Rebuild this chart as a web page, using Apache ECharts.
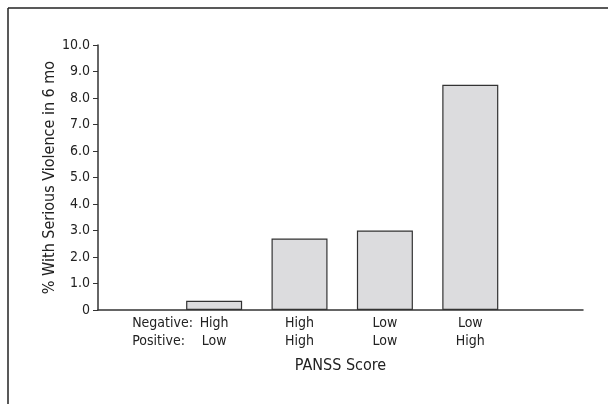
<!DOCTYPE html>
<html>
<head>
<meta charset="utf-8">
<script src="https://cdn.jsdelivr.net/npm/echarts@6/dist/echarts.min.js"></script>
<style>
html,body{margin:0;padding:0;background:#fff;}
#c{width:608px;height:404px;}
</style>
</head>
<body>
<div id="c"></div>
<script>
// Data
var negativeLevels = ['High', 'High', 'Low', 'Low'];
var positiveLevels = ['Low', 'High', 'Low', 'High'];
var violencePct = [0.35, 2.7, 3.0, 8.5];
var yTicks = ['0', '1.0', '2.0', '3.0', '4.0', '5.0', '6.0', '7.0', '8.0', '9.0', '10.0'];
var rowLabels = ['Negative:', 'Positive:'];
var yTitle = '% With Serious Violence in 6 mo';
var xTitle = 'PANSS Score';

var FONT = "'Liberation Sans Narrow', 'DejaVu Sans Condensed', sans-serif";
var TXT = '#222';
var FS = 14;
var NFS = 16;

var positions = negativeLevels.map(function (_, i) { return i + 1; });
var seriesData = violencePct.map(function (v, i) { return [positions[i], v]; });

var chart = echarts.init(document.getElementById('c'), null, {renderer: 'canvas'});
chart.setOption({
  animation: false,
  backgroundColor: '#fff',
  grid: {left: 98, right: 25, top: 45, bottom: 94, containLabel: false},
  xAxis: [{
    type: 'value',
    min: -0.36,
    max: 5.32,
    splitLine: {show: false},
    axisLine: {show: true, onZero: false, lineStyle: {color: '#333', width: 1.5}},
    axisTick: {show: false},
    axisLabel: {
      customValues: positions,
      hideOverlap: false,
      margin: 4,
      color: TXT,
      fontFamily: FONT,
      fontSize: FS,
      lineHeight: 18,
      formatter: function (v) {
        var i = Math.round(v) - 1;
        return negativeLevels[i] + '\n' + positiveLevels[i];
      }
    },
    name: xTitle,
    nameLocation: 'middle',
    nameGap: 48,
    nameTextStyle: {color: TXT, fontFamily: FONT, fontSize: NFS}
  }, {
    type: 'value',
    position: 'bottom',
    offset: 0,
    min: -0.36,
    max: 5.32,
    splitLine: {show: false},
    axisLine: {show: false},
    axisTick: {show: false},
    axisLabel: {
      customValues: [positions[0]],
      hideOverlap: false,
      margin: 4,
      align: 'right',
      padding: [0, 20, 0, 0],
      color: TXT,
      fontFamily: FONT,
      fontSize: FS,
      lineHeight: 18,
      formatter: function () {
        return '{p|' + rowLabels[0] + '}\n{p|' + rowLabels[1] + '}';
      },
      rich: {
        p: {width: 62, align: 'left', fontFamily: FONT, fontSize: FS, color: TXT, lineHeight: 18}
      }
    }
  }],
  yAxis: {
    type: 'value',
    min: 0,
    max: 10,
    interval: 1,
    splitLine: {show: false},
    axisLine: {show: true, onZero: false, lineStyle: {color: '#333', width: 1.5}},
    axisTick: {show: true, length: 5, lineStyle: {color: '#333', width: 1}},
    axisLabel: {
      margin: 8,
      color: TXT,
      fontFamily: FONT,
      fontSize: FS,
      formatter: function (v) { return yTicks[Math.round(v)]; }
    },
    name: yTitle,
    nameLocation: 'middle',
    nameGap: 40,
    nameMoveOverlap: false,
    nameTextStyle: {color: TXT, fontFamily: FONT, fontSize: NFS}
  },
  series: [{
    type: 'bar',
    xAxisIndex: 0,
    data: seriesData,
    barWidth: 56,
    itemStyle: {color: '#dcdcde', borderColor: '#333', borderWidth: 1.2}
  }],
  graphic: [
    {type: 'line', shape: {x1: 8, y1: 8, x2: 608, y2: 8}, style: {stroke: '#222', lineWidth: 1.5}, silent: true},
    {type: 'line', shape: {x1: 8, y1: 8, x2: 8, y2: 404}, style: {stroke: '#222', lineWidth: 1.5}, silent: true}
  ]
});
</script>
</body>
</html>
